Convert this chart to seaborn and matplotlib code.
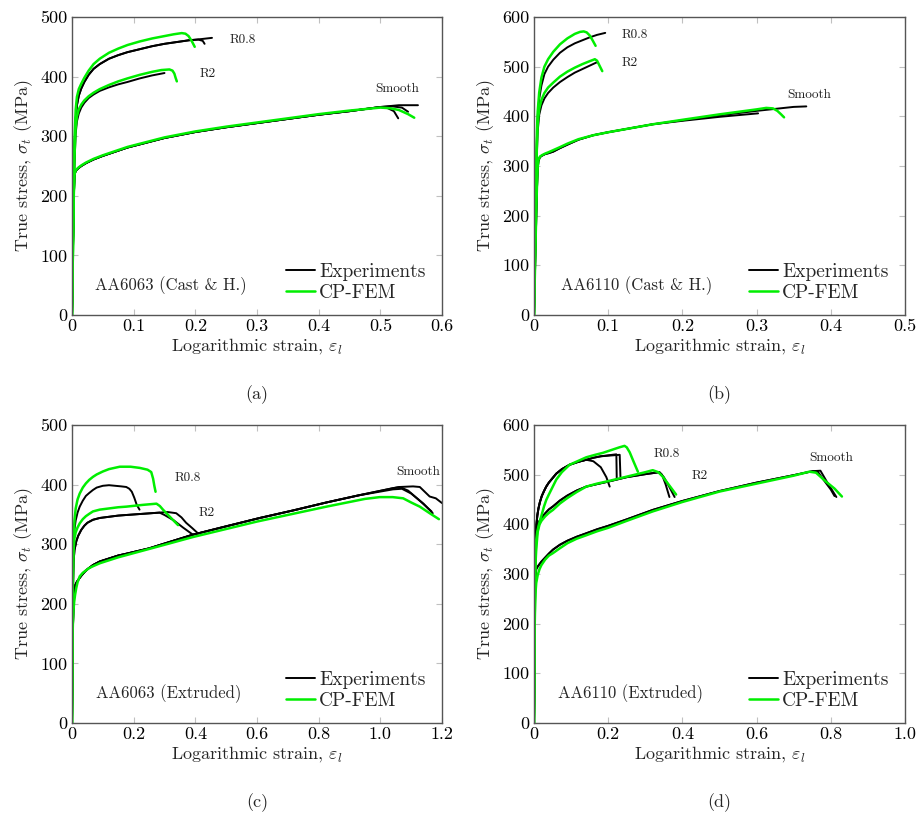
import numpy as np
import pandas as pd
import matplotlib
matplotlib.use("Agg")
import matplotlib.pyplot as plt
from matplotlib.lines import Line2D
import seaborn as sns

# ---------------- data ----------------
# Panel (a) AA6063 (Cast & H.)
a_exp_r08_x = [0, 0.001, 0.002, 0.003, 0.004, 0.006, 0.008, 0.011, 0.015, 0.02, 0.027, 0.035, 0.045, 0.06, 0.075, 0.09, 0.11, 0.13, 0.15, 0.17, 0.19, 0.21, 0.227]
a_exp_r08_y = [0, 70, 150, 225, 280, 330, 352, 368, 380, 391, 403, 413, 421, 430, 436, 441, 446, 451, 455, 458, 461, 463, 465]
a_exp_r08_tail_x = [0.205, 0.212, 0.215]
a_exp_r08_tail_y = [462, 460, 455]
a_fem_r08_x = [0, 0.001, 0.002, 0.003, 0.004, 0.006, 0.008, 0.011, 0.015, 0.02, 0.027, 0.035, 0.045, 0.06, 0.075, 0.09, 0.11, 0.13, 0.15, 0.165, 0.178, 0.184, 0.189, 0.194, 0.199]
a_fem_r08_y = [0, 75, 160, 240, 295, 345, 366, 379, 388, 398, 410, 421, 430, 440, 447, 453, 459, 464, 468, 471, 473, 472, 468, 460, 450]
a_exp_r2_x = [0, 0.001, 0.002, 0.003, 0.004, 0.006, 0.008, 0.011, 0.015, 0.02, 0.027, 0.035, 0.045, 0.06, 0.075, 0.09, 0.11, 0.13, 0.15]
a_exp_r2_y = [0, 70, 140, 205, 255, 305, 325, 338, 348, 356, 364, 370, 376, 382, 387, 391, 397, 402, 406]
a_fem_r2_x = [0, 0.001, 0.002, 0.003, 0.004, 0.006, 0.008, 0.011, 0.015, 0.02, 0.027, 0.035, 0.045, 0.06, 0.075, 0.09, 0.11, 0.13, 0.145, 0.158, 0.163, 0.166, 0.168, 0.170]
a_fem_r2_y = [0, 75, 150, 215, 265, 315, 333, 345, 353, 360, 367, 373, 379, 386, 392, 397, 403, 408, 411, 412, 410, 405, 398, 392]
a_exp_sm_x = [0, 0.001, 0.002, 0.003, 0.004, 0.005, 0.007, 0.01, 0.015, 0.023, 0.035, 0.05, 0.07, 0.09, 0.12, 0.15, 0.2, 0.25, 0.3, 0.35, 0.4, 0.45, 0.5, 0.53, 0.561]
a_exp_sm_y = [0, 70, 140, 200, 232, 239, 243, 246, 250, 255, 261, 267, 274, 281, 289, 297, 307, 315, 322, 329, 336, 342, 349, 352, 352]
a_exp_sm_tail1_x = [0.52, 0.535, 0.545]
a_exp_sm_tail1_y = [350, 348, 341]
a_exp_sm_tail2_x = [0.51, 0.522, 0.529]
a_exp_sm_tail2_y = [348, 342, 330]
a_fem_sm_x = [0, 0.001, 0.002, 0.003, 0.004, 0.005, 0.007, 0.01, 0.015, 0.023, 0.035, 0.05, 0.07, 0.09, 0.12, 0.15, 0.2, 0.25, 0.3, 0.35, 0.4, 0.45, 0.5, 0.515, 0.53, 0.545, 0.555]
a_fem_sm_y = [0, 72, 145, 205, 234, 240, 244, 247, 251, 256, 262, 268, 275, 282, 290, 298, 308, 316, 323, 330, 337, 343, 348, 347, 344, 337, 331]

# Panel (b) AA6110 (Cast & H.)
b_exp_r08_x = [0, 0.001, 0.002, 0.003, 0.004, 0.005, 0.007, 0.01, 0.014, 0.019, 0.026, 0.035, 0.045, 0.055, 0.065, 0.075, 0.085, 0.096]
b_exp_r08_y = [0, 100, 200, 290, 360, 400, 435, 462, 485, 500, 514, 528, 539, 547, 553, 559, 564, 568]
b_fem_r08_x = [0, 0.001, 0.002, 0.003, 0.004, 0.005, 0.007, 0.01, 0.014, 0.019, 0.026, 0.035, 0.045, 0.055, 0.062, 0.067, 0.071, 0.075, 0.079, 0.083]
b_fem_r08_y = [0, 105, 210, 300, 370, 410, 448, 478, 500, 515, 530, 545, 557, 566, 570, 571, 569, 563, 553, 542]
b_exp_r2_x = [0, 0.001, 0.002, 0.003, 0.004, 0.005, 0.007, 0.01, 0.014, 0.019, 0.026, 0.035, 0.045, 0.055, 0.065, 0.075, 0.085]
b_exp_r2_y = [0, 95, 190, 270, 330, 370, 403, 422, 436, 447, 458, 469, 479, 488, 495, 502, 509]
b_fem_r2_x = [0, 0.001, 0.002, 0.003, 0.004, 0.005, 0.007, 0.01, 0.014, 0.019, 0.026, 0.035, 0.045, 0.055, 0.065, 0.075, 0.082, 0.085, 0.088, 0.092]
b_fem_r2_y = [0, 100, 200, 285, 345, 385, 415, 433, 447, 458, 468, 480, 490, 498, 505, 511, 515, 512, 503, 491]
b_exp_sm_x = [0, 0.001, 0.002, 0.003, 0.004, 0.005, 0.006, 0.008, 0.011, 0.015, 0.02, 0.026, 0.035, 0.045, 0.06, 0.08, 0.1, 0.13, 0.16, 0.2, 0.25, 0.3, 0.35, 0.367]
b_exp_sm_y = [0, 65, 130, 195, 255, 295, 310, 318, 321, 324, 326, 329, 336, 343, 353, 362, 368, 376, 384, 392, 402, 411, 419, 420]
b_exp_sm_low_x = [0.2, 0.25, 0.302]
b_exp_sm_low_y = [391, 399, 406]
b_fem_sm_x = [0, 0.001, 0.002, 0.003, 0.004, 0.005, 0.006, 0.008, 0.011, 0.015, 0.02, 0.026, 0.035, 0.045, 0.06, 0.08, 0.1, 0.13, 0.16, 0.2, 0.25, 0.3, 0.313, 0.322, 0.328, 0.333, 0.337]
b_fem_sm_y = [0, 70, 140, 205, 260, 298, 312, 319, 322, 325, 328, 332, 338, 345, 354, 362, 368, 376, 384, 393, 404, 414, 417, 416, 411, 404, 398]

# Panel (c) AA6063 (Extruded)
c_exp_r08_x = [0, 0.001, 0.002, 0.003, 0.005, 0.008, 0.012, 0.018, 0.025, 0.035, 0.045, 0.056, 0.068, 0.08, 0.1, 0.12, 0.14, 0.16, 0.176, 0.186, 0.194, 0.202, 0.21, 0.219]
c_exp_r08_y = [0, 100, 200, 250, 300, 325, 340, 353, 363, 373, 381, 386, 391, 395, 398, 399, 398, 397, 396, 393, 388, 378, 366, 358]
c_fem_r08_x = [0, 0.001, 0.002, 0.003, 0.005, 0.008, 0.012, 0.018, 0.025, 0.035, 0.045, 0.056, 0.068, 0.08, 0.1, 0.12, 0.155, 0.19, 0.22, 0.245, 0.257, 0.263, 0.267, 0.271]
c_fem_r08_y = [0, 100, 200, 260, 310, 340, 360, 375, 385, 395, 402, 408, 413, 417, 422, 426, 430, 430, 428, 425, 421, 410, 398, 388]
c_exp_r2_x = [0, 0.001, 0.002, 0.003, 0.005, 0.008, 0.014, 0.02, 0.03, 0.04, 0.05, 0.068, 0.09, 0.12, 0.15, 0.176, 0.23, 0.284, 0.31, 0.338, 0.355, 0.37, 0.39, 0.409]
c_exp_r2_y = [0, 90, 180, 220, 270, 290, 305, 314, 324, 331, 336, 341, 344, 346, 348, 349, 351, 353, 354, 352, 345, 336, 327, 318]
c_exp_r2_tail_x = [0.284, 0.30, 0.33, 0.36, 0.392]
c_exp_r2_tail_y = [353, 349, 340, 328, 316]
c_fem_r2_x = [0, 0.001, 0.002, 0.003, 0.005, 0.008, 0.012, 0.018, 0.025, 0.035, 0.045, 0.056, 0.068, 0.09, 0.12, 0.15, 0.176, 0.23, 0.274, 0.285, 0.295, 0.31, 0.325, 0.344]
c_fem_r2_y = [0, 95, 190, 240, 290, 310, 320, 328, 335, 342, 347, 351, 355, 358, 360, 362, 363, 366, 368, 364, 358, 350, 342, 332]
c_exp_sm_x = [0, 0.001, 0.002, 0.003, 0.005, 0.007, 0.009, 0.012, 0.016, 0.02, 0.03, 0.04, 0.05, 0.068, 0.09, 0.12, 0.15, 0.176, 0.25, 0.392, 0.5, 0.609, 0.72, 0.825, 0.93, 1.041, 1.063, 1.106, 1.128, 1.16, 1.18, 1.2]
c_exp_sm_y = [0, 60, 120, 160, 200, 220, 229, 233, 237, 240, 247, 253, 258, 265, 271, 276, 281, 284, 293, 316, 330, 344, 357, 370, 382, 394, 396, 397, 396, 380, 377, 369]
c_exp_sm_tail1_x = [1.063, 1.09, 1.13, 1.166]
c_exp_sm_tail1_y = [396, 390, 372, 355]
c_exp_sm_tail2_x = [1.041, 1.07, 1.10, 1.14, 1.17]
c_exp_sm_tail2_y = [392, 393, 385, 368, 352]
c_fem_sm_x = [0, 0.001, 0.002, 0.003, 0.005, 0.007, 0.01, 0.014, 0.018, 0.025, 0.035, 0.045, 0.056, 0.068, 0.09, 0.12, 0.15, 0.2, 0.3, 0.392, 0.6, 0.825, 0.95, 0.998, 1.04, 1.074, 1.10, 1.128, 1.16, 1.19]
c_fem_sm_y = [0, 75, 150, 170, 190, 203, 215, 227, 236, 246, 252, 256, 260, 263, 268, 273, 278, 285, 299, 312, 338, 363, 376, 379, 379, 377, 370, 363, 352, 342]

# Panel (d) AA6110 (Extruded)
d_exp_r08_x = [0, 0.001, 0.002, 0.003, 0.004, 0.006, 0.009, 0.012, 0.016, 0.021, 0.027, 0.033, 0.04, 0.05, 0.06, 0.075, 0.096, 0.12, 0.141, 0.16, 0.18, 0.2, 0.222, 0.223]
d_exp_r08_y = [0, 125, 250, 320, 360, 395, 418, 432, 445, 457, 467, 476, 484, 493, 502, 511, 520, 526, 530, 534, 537, 539, 541, 493]
d_exp_r08_tail1_x = [0.18, 0.231, 0.233]
d_exp_r08_tail1_y = [537, 540, 496]
d_exp_r08_tail2_x = [0.141, 0.16, 0.18, 0.195, 0.204]
d_exp_r08_tail2_y = [530, 527, 515, 495, 476]
d_fem_r08_x = [0, 0.001, 0.002, 0.003, 0.004, 0.006, 0.009, 0.012, 0.016, 0.021, 0.027, 0.033, 0.04, 0.05, 0.06, 0.075, 0.096, 0.12, 0.141, 0.165, 0.186, 0.21, 0.23, 0.244, 0.25, 0.258, 0.268, 0.28]
d_fem_r08_y = [0, 110, 220, 290, 330, 369, 385, 396, 407, 420, 436, 449, 460, 475, 490, 505, 520, 528, 535, 540, 544, 550, 555, 558, 555, 545, 527, 506]
d_exp_r2_x = [0, 0.001, 0.002, 0.003, 0.004, 0.006, 0.01, 0.015, 0.02, 0.03, 0.04, 0.051, 0.07, 0.09, 0.115, 0.141, 0.17, 0.2, 0.25, 0.3, 0.338, 0.345, 0.355, 0.365]
d_exp_r2_y = [0, 120, 240, 310, 355, 389, 400, 407, 413, 422, 430, 436, 448, 458, 468, 476, 481, 486, 495, 501, 505, 500, 480, 455]
d_exp_r2_tail_x = [0.338, 0.35, 0.365, 0.379]
d_exp_r2_tail_y = [505, 495, 475, 455]
d_fem_r2_x = [0, 0.001, 0.002, 0.003, 0.004, 0.006, 0.01, 0.015, 0.02, 0.03, 0.04, 0.051, 0.07, 0.09, 0.115, 0.141, 0.17, 0.2, 0.25, 0.3, 0.32, 0.335, 0.347, 0.365, 0.383]
d_fem_r2_y = [0, 110, 220, 280, 320, 350, 385, 400, 407, 416, 423, 429, 442, 453, 465, 476, 482, 487, 496, 505, 509, 505, 496, 478, 460]
d_exp_sm_x = [0, 0.001, 0.002, 0.003, 0.004, 0.006, 0.01, 0.015, 0.02, 0.03, 0.04, 0.051, 0.07, 0.09, 0.115, 0.141, 0.17, 0.2, 0.25, 0.32, 0.4, 0.5, 0.6, 0.7, 0.751, 0.765, 0.78, 0.80, 0.81]
d_exp_sm_y = [0, 100, 200, 260, 290, 310, 315, 320, 325, 333, 341, 349, 359, 367, 375, 382, 390, 397, 410, 429, 447, 467, 484, 499, 507, 506, 490, 470, 457]
d_exp_sm_tail_x = [0.751, 0.772, 0.79, 0.815]
d_exp_sm_tail_y = [507, 508, 485, 455]
d_fem_sm_x = [0, 0.001, 0.002, 0.003, 0.004, 0.006, 0.01, 0.015, 0.02, 0.03, 0.04, 0.051, 0.07, 0.09, 0.115, 0.141, 0.17, 0.2, 0.25, 0.32, 0.4, 0.5, 0.6, 0.7, 0.742, 0.76, 0.787, 0.81, 0.83]
d_fem_sm_y = [0, 100, 200, 240, 262, 282, 298, 310, 318, 329, 337, 342, 352, 362, 371, 378, 386, 393, 407, 426, 445, 466, 482, 498, 506, 504, 486, 472, 456]

# axis settings / text
panel_tags = ["(a)", "(b)", "(c)", "(d)"]
panel_titles = ["AA6063 (Cast & H.)", "AA6110 (Cast & H.)", "AA6063 (Extruded)", "AA6110 (Extruded)"]
a_xticks = [0, 0.1, 0.2, 0.3, 0.4, 0.5, 0.6]
a_xlabels = ["0", "0.1", "0.2", "0.3", "0.4", "0.5", "0.6"]
b_xticks = [0, 0.1, 0.2, 0.3, 0.4, 0.5]
b_xlabels = ["0", "0.1", "0.2", "0.3", "0.4", "0.5"]
c_xticks = [0, 0.2, 0.4, 0.6, 0.8, 1.0, 1.2]
c_xlabels = ["0", "0.2", "0.4", "0.6", "0.8", "1.0", "1.2"]
d_xticks = [0, 0.2, 0.4, 0.6, 0.8, 1.0]
d_xlabels = ["0", "0.2", "0.4", "0.6", "0.8", "1.0"]
yticks_500 = [0, 100, 200, 300, 400, 500]
yticks_600 = [0, 100, 200, 300, 400, 500, 600]
legend_labels = ["Experiments", "CP-FEM"]

# ---------------- style ----------------
sns.set_theme(style="white")
plt.rcParams["font.family"] = ["cmr10", "DejaVu Serif"]
plt.rcParams["mathtext.fontset"] = "cm"
plt.rcParams["axes.formatter.use_mathtext"] = True
plt.rcParams["axes.unicode_minus"] = False

EXP_C = "black"
FEM_C = "#00ee00"


def build(curves):
    rows = []
    for cid, (src, xs, ys) in enumerate(curves):
        for x, y in zip(xs, ys):
            rows.append({"strain": x, "stress": y, "source": src, "curve": cid})
    return pd.DataFrame(rows)


def with_tail(mx, my, tx, ty):
    # repeat specimen that follows the main curve up to the tail start
    x0 = tx[0]
    xs = [x for x in mx if x < x0]
    ys = [y for x, y in zip(mx, my) if x < x0]
    return xs + list(tx), ys + list(ty)


panels = [
    dict(
        exp=[(a_exp_r08_x, a_exp_r08_y), with_tail(a_exp_r08_x, a_exp_r08_y, a_exp_r08_tail_x, a_exp_r08_tail_y),
             (a_exp_r2_x, a_exp_r2_y),
             (a_exp_sm_x, a_exp_sm_y), with_tail(a_exp_sm_x, a_exp_sm_y, a_exp_sm_tail1_x, a_exp_sm_tail1_y),
             with_tail(a_exp_sm_x, a_exp_sm_y, a_exp_sm_tail2_x, a_exp_sm_tail2_y)],
        fem=[(a_fem_r08_x, a_fem_r08_y), (a_fem_r2_x, a_fem_r2_y), (a_fem_sm_x, a_fem_sm_y)],
        xlim=(0, 0.6), ylim=(0, 500), xticks=a_xticks, xlabels=a_xlabels, yticks=yticks_500,
        notes=[("R0.8", 0.277, 462), ("R2", 0.22, 404), ("Smooth", 0.528, 380)],
        title_pos=(0.038, 50),
        rect=[72, 17, 442, 315]),
    dict(
        exp=[(b_exp_r08_x, b_exp_r08_y), (b_exp_r2_x, b_exp_r2_y),
             (b_exp_sm_x, b_exp_sm_y), with_tail(b_exp_sm_x, b_exp_sm_y, b_exp_sm_low_x, b_exp_sm_low_y)],
        fem=[(b_fem_r08_x, b_fem_r08_y), (b_fem_r2_x, b_fem_r2_y), (b_fem_sm_x, b_fem_sm_y)],
        xlim=(0, 0.5), ylim=(0, 600), xticks=b_xticks, xlabels=b_xlabels, yticks=yticks_600,
        notes=[("R0.8", 0.136, 564), ("R2", 0.129, 507), ("Smooth", 0.371, 444)],
        title_pos=(0.037, 60),
        rect=[534, 17, 905, 315]),
    dict(
        exp=[(c_exp_r08_x, c_exp_r08_y), (c_exp_r2_x, c_exp_r2_y),
             with_tail(c_exp_r2_x, c_exp_r2_y, c_exp_r2_tail_x, c_exp_r2_tail_y),
             (c_exp_sm_x, c_exp_sm_y), with_tail(c_exp_sm_x, c_exp_sm_y, c_exp_sm_tail1_x, c_exp_sm_tail1_y),
             with_tail(c_exp_sm_x, c_exp_sm_y, c_exp_sm_tail2_x, c_exp_sm_tail2_y)],
        fem=[(c_fem_r08_x, c_fem_r08_y), (c_fem_r2_x, c_fem_r2_y), (c_fem_sm_x, c_fem_sm_y)],
        xlim=(0, 1.2), ylim=(0, 500), xticks=c_xticks, xlabels=c_xlabels, yticks=yticks_500,
        notes=[("R0.8", 0.376, 412), ("R2", 0.436, 353), ("Smooth", 1.122, 421)],
        title_pos=(0.077, 50),
        rect=[72, 425, 442, 723]),
    dict(
        exp=[(d_exp_r08_x, d_exp_r08_y), with_tail(d_exp_r08_x, d_exp_r08_y, d_exp_r08_tail1_x, d_exp_r08_tail1_y),
             with_tail(d_exp_r08_x, d_exp_r08_y, d_exp_r08_tail2_x, d_exp_r08_tail2_y),
             (d_exp_r2_x, d_exp_r2_y), with_tail(d_exp_r2_x, d_exp_r2_y, d_exp_r2_tail_x, d_exp_r2_tail_y),
             (d_exp_sm_x, d_exp_sm_y), with_tail(d_exp_sm_x, d_exp_sm_y, d_exp_sm_tail_x, d_exp_sm_tail_y)],
        fem=[(d_fem_r08_x, d_fem_r08_y), (d_fem_r2_x, d_fem_r2_y), (d_fem_sm_x, d_fem_sm_y)],
        xlim=(0, 1.0), ylim=(0, 600), xticks=d_xticks, xlabels=d_xlabels, yticks=yticks_600,
        notes=[("R0.8", 0.358, 541), ("R2", 0.446, 497), ("Smooth", 0.80, 534)],
        title_pos=(0.065, 60),
        rect=[534, 425, 905, 723]),
]

W, H = 919, 816
fig = plt.figure(figsize=(W / 100, H / 100), dpi=100)

for i, p in enumerate(panels):
    l, t, r, b = p["rect"]
    ax = fig.add_axes([l / W, 1 - b / H, (r - l) / W, (b - t) / H])
    exp_df = build([("Experiments", x, y) for x, y in p["exp"]])
    fem_df = build([("CP-FEM", x, y) for x, y in p["fem"]])
    sns.lineplot(data=exp_df, x="strain", y="stress", units="curve", estimator=None, sort=False,
                 color=EXP_C, linewidth=1.4, ax=ax, legend=False)
    sns.lineplot(data=fem_df, x="strain", y="stress", units="curve", estimator=None, sort=False,
                 color=FEM_C, linewidth=1.8, ax=ax, legend=False)
    ax.set_xlim(*p["xlim"])
    ax.set_ylim(*p["ylim"])
    ax.set_xticks(p["xticks"])
    ax.set_xticklabels(p["xlabels"])
    ax.set_yticks(p["yticks"])
    ax.set_yticklabels([str(v) for v in p["yticks"]])
    ax.tick_params(direction="in", length=4, width=0.8, color="#c0c0c0", labelsize=13,
                   top=True, right=True, bottom=True, left=True, pad=3, labelcolor="black")
    for s in ax.spines.values():
        s.set_color("#555555")
        s.set_linewidth(1.0)
    ax.set_xlabel(r"Logarithmic strain, $\varepsilon_l$", fontsize=13, labelpad=1)
    ax.set_ylabel(r"True stress, $\sigma_t$ (MPa)", fontsize=13, labelpad=4)
    for txt, x, y in p["notes"]:
        ax.text(x, y, txt, fontsize=9.5, ha="center", va="center", color="#222222")
    ax.text(p["title_pos"][0], p["title_pos"][1], panel_titles[i], fontsize=12, ha="left", va="center")
    handles = [Line2D([], [], color=EXP_C, lw=1.4), Line2D([], [], color=FEM_C, lw=1.8)]
    ax.legend(handles, legend_labels, loc="lower right", bbox_to_anchor=(0.955, 0.045), frameon=False,
              fontsize=14, handlelength=1.5, handletextpad=0.2, labelspacing=0.15, borderpad=0.0,
              borderaxespad=0)
    cx = (l + r) / 2 / W
    fig.text(cx, 1 - (b + 80) / H, panel_tags[i], fontsize=13, ha="center", va="center")

fig.savefig("out.png", dpi=100)
